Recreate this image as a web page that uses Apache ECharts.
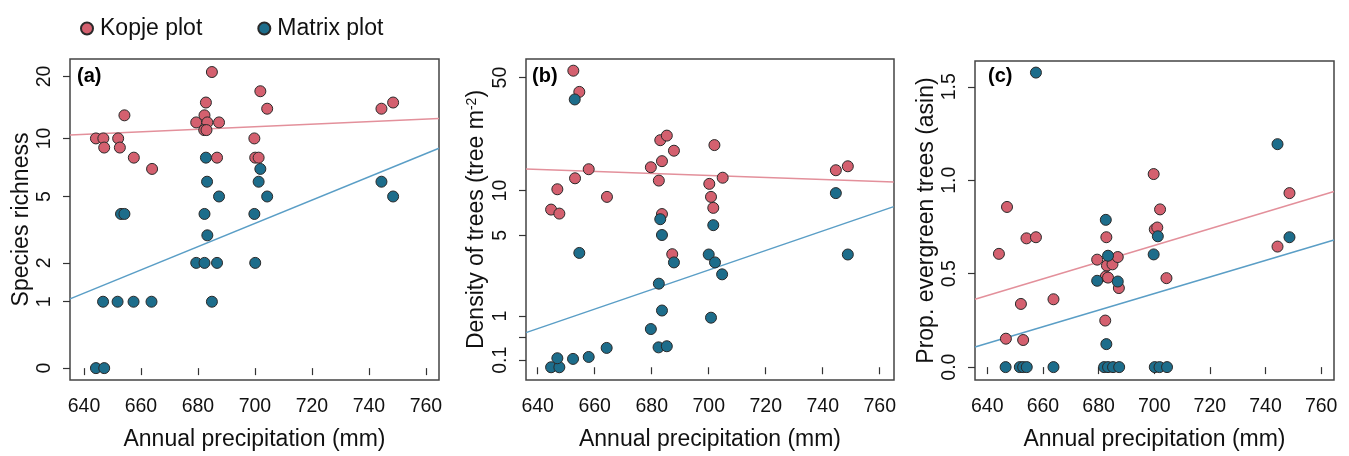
<!DOCTYPE html>
<html>
<head>
<meta charset="utf-8">
<script src="https://cdn.jsdelivr.net/npm/echarts@6/dist/echarts.min.js"></script>
<style>
html,body{margin:0;padding:0;background:#fff;}
#chart{width:1349px;height:456px;}
</style>
</head>
<body>
<div id="chart"></div>
<script>
// ---------- DATA ----------
const seriesNames = ['Kopje plot', 'Matrix plot'];
const panelLabels = ['(a)', '(b)', '(c)'];
const xTicks = [640, 660, 680, 700, 720, 740, 760];
const xAxisTitle = 'Annual precipitation (mm)';

// (a) Species richness
const richKopje = [[644.2,10],[646.8,10],[647.1,9],[652.0,10],[652.6,9],[654.2,13],[657.5,8],[663.9,7],
  [679.4,12],[682.3,13],[682.8,15],[683.3,12],[682.2,11],[683.0,11],[684.9,21],[687.4,12],[686.7,8],
  [699.8,10],[700.1,8],[701.3,8],[701.9,17],[704.3,14],[744.4,14],[748.5,15]];
const richMatrix = [[644.2,0],[647.1,0],[646.7,1],[651.8,1],[657.4,1],[663.7,1],[653.0,4],[654.2,4],
  [682.8,8],[683.2,6],[687.4,5],[682.3,4],[683.3,3],[679.4,2],[682.3,2],[686.7,2],[684.9,1],
  [699.8,4],[700.1,2],[701.9,7],[701.3,6],[704.3,5],[744.4,6],[748.5,5]];
const richFitKopje = [[635.1,10.39],[764.6,12.53]];
const richFitMatrix = [[635.1,1.06],[764.6,8.93]];
const richTicks = [0,1,2,5,10,20];

// (b) Density of trees
const densKopje = [[652.5,55],[654.6,41],[644.7,7.5],[646.9,10.2],[647.6,7.05],[653.1,12.0],[657.9,13.7],
  [664.3,9.1],[679.7,14.1],[682.5,11.6],[683.0,20.8],[685.3,22.2],[683.6,15.4],[687.8,17.9],[683.6,7.0],
  [687.2,3.64],[702.0,19.4],[704.9,12.1],[700.2,11.05],[700.8,9.1],[701.6,7.7],[744.6,13.5],[748.8,14.3]];
const densMatrix = [[653.0,36.9],[654.6,3.72],[644.7,0],[647.6,0],[646.9,0.13],[652.4,0.12],[657.9,0.15],
  [664.2,0.30],[679.7,0.68],[682.4,0.31],[685.3,0.33],[682.5,2.11],[683.6,1.16],[683.0,6.46],[683.6,5.02],
  [687.8,3.15],[700.0,3.62],[700.8,0.96],[701.6,5.88],[702.2,3.15],[704.7,2.53],[744.6,9.63],[748.8,3.62]];
const densFitKopje = [[635.9,13.74],[764.9,11.38]];
const densFitMatrix = [[635.9,0.60],[764.9,7.85]];
const densTicks = [0.1,0.5,1,5,10,50];
const densLabels = [0.1,1,5,10,50];

// (c) Proportion of evergreen trees (asin)
const everKopje = [[644.2,0.606],[647.1,0.857],[646.7,0.152],[652.1,0.338],[652.9,0.145],[654.1,0.689],
  [657.5,0.695],[663.8,0.363],[679.5,0.575],[682.8,0.695],[683.0,0.543],[685.0,0.55],[686.9,0.589],
  [682.6,0.485],[683.4,0.479],[687.3,0.423],[682.4,0.249],[699.8,1.033],[700.2,0.737],[701.1,0.747],
  [702.1,0.844],[704.4,0.476],[744.3,0.645],[748.6,0.931]];
const everMatrix = [[657.5,1.576],[646.6,0],[651.7,0],[652.9,0],[654.2,0],[663.8,0],[682.6,0.788],
  [683.4,0.596],[679.5,0.462],[686.9,0.458],[682.8,0.123],[682.0,0],[683.4,0],[685.2,0],[687.4,0],
  [699.8,0.603],[701.3,0.70],[700.2,0],[701.9,0],[704.6,0],[744.3,1.193],[748.6,0.695]];
const everFitKopje = [[635.6,0.363],[764.6,0.940]];
const everFitMatrix = [[635.6,0.108],[764.6,0.680]];
const everTicks = [0,0.5,1,1.5];

// ---------- BUILD ----------
const lg = v => Math.log(v + 1);
const inv = t => Math.round((Math.exp(t) - 1) * 10) / 10;
const tf = (arr, f) => arr.map(p => [p[0], f(p[1])]);
const id = v => v;

const KCOL = '#d4606f', MCOL = '#1d6d8b';
const KLINE = '#e3909b', MLINE = '#5a9ec6';
const FONT = 'Liberation Sans, Arial, sans-serif';

const grids = [
  {left:70, top:59, width:369, height:324},
  {left:526, top:59, width:368, height:324},
  {left:975, top:61, width:359, height:323}
];
const xr = [[635.1,764.6],[635.9,765.0],[635.6,764.6]];
const yr = [[-0.124,3.227],[-0.173,4.184],[-0.069,1.638]];
const yNames = [
  'Species richness',
  '{a|Density of trees (tree m}{s|-2}{a|)}',
  'Prop. evergreen trees (asin)'
];
const yTickVals = [richTicks.map(lg), densTicks.map(lg), everTicks];
const yLabelVals = [richTicks.map(lg), densLabels.map(lg), everTicks];
const yFmt = [v => String(inv(v)), v => String(inv(v)), v => v.toFixed(1)];

const option = {
  animation:false,
  backgroundColor:'#fff',
  textStyle:{fontFamily:FONT},
  legend:{
    left:75, top:12, itemGap:55, itemWidth:12, itemHeight:12,
    data:seriesNames.map(n => ({name:n, icon:'circle'})),
    textStyle:{fontSize:23, color:'#111', fontFamily:FONT, padding:[0,0,0,2]}
  },
  grid: grids.map(g => Object.assign({show:true, borderColor:'#444', borderWidth:1.5, backgroundColor:'transparent'}, g)),
  xAxis: grids.map((g,i) => ({
    type:'value', gridIndex:i, min:xr[i][0], max:xr[i][1],
    name:xAxisTitle, nameLocation:'middle', nameGap:48,
    nameTextStyle:{fontSize:23, color:'#111', fontFamily:FONT},
    axisLine:{show:false}, splitLine:{show:false},
    axisTick:{show:true, length:7, lineStyle:{color:'#333', width:1.2}, customValues:xTicks},
    axisLabel:{fontSize:19.5, color:'#111', margin:17, customValues:xTicks, fontFamily:FONT}
  })),
  yAxis: grids.map((g,i) => ({
    type:'value', gridIndex:i, min:yr[i][0], max:yr[i][1],
    name:yNames[i], nameLocation:'middle', nameRotate:90, nameGap:37,
    nameTextStyle:{fontSize:23, color:'#111', fontFamily:FONT,
      rich:{a:{fontSize:23, color:'#111', fontFamily:FONT}, s:{fontSize:14, color:'#111', verticalAlign:'top', padding:[0,0,10,0], fontFamily:FONT}}},
    axisLine:{show:false}, splitLine:{show:false},
    axisTick:{show:true, length:7, lineStyle:{color:'#333', width:1.2}, customValues:yTickVals[i]},
    axisLabel:{fontSize:19.5, color:'#111', rotate:90, margin:15, customValues:yLabelVals[i], formatter:yFmt[i], fontFamily:FONT}
  })),
  graphic: panelLabels.map((t,i) => ({
    type:'text', left:[77,532,988][i], top:[66,66,66][i],
    style:{text:t, fontSize:20, fontWeight:'bold', fill:'#000', fontFamily:FONT}
  })),
  series:[]
};

const panels = [
  {k:richKopje, m:richMatrix, fk:richFitKopje, fm:richFitMatrix, f:lg},
  {k:densKopje, m:densMatrix, fk:densFitKopje, fm:densFitMatrix, f:lg},
  {k:everKopje, m:everMatrix, fk:everFitKopje, fm:everFitMatrix, f:id}
];
panels.forEach((p,i) => {
  option.series.push(
    {type:'line', name:'fitK'+i, xAxisIndex:i, yAxisIndex:i, data:tf(p.fk,p.f), symbol:'none', silent:true,
      lineStyle:{color:KLINE, width:1.5}, z:1},
    {type:'line', name:'fitM'+i, xAxisIndex:i, yAxisIndex:i, data:tf(p.fm,p.f), symbol:'none', silent:true,
      lineStyle:{color:MLINE, width:1.5}, z:1},
    {type:'scatter', name:seriesNames[0], xAxisIndex:i, yAxisIndex:i, data:tf(p.k,p.f), symbolSize:11,
      itemStyle:{color:KCOL, borderColor:'#2a2a2a', borderWidth:1, opacity:1}, z:3},
    {type:'scatter', name:seriesNames[1], xAxisIndex:i, yAxisIndex:i, data:tf(p.m,p.f), symbolSize:11,
      itemStyle:{color:MCOL, borderColor:'#2a2a2a', borderWidth:1, opacity:1}, z:3}
  );
});

const chart = echarts.init(document.getElementById('chart'), null, {renderer:'canvas'});
chart.setOption(option);
</script>
</body>
</html>
